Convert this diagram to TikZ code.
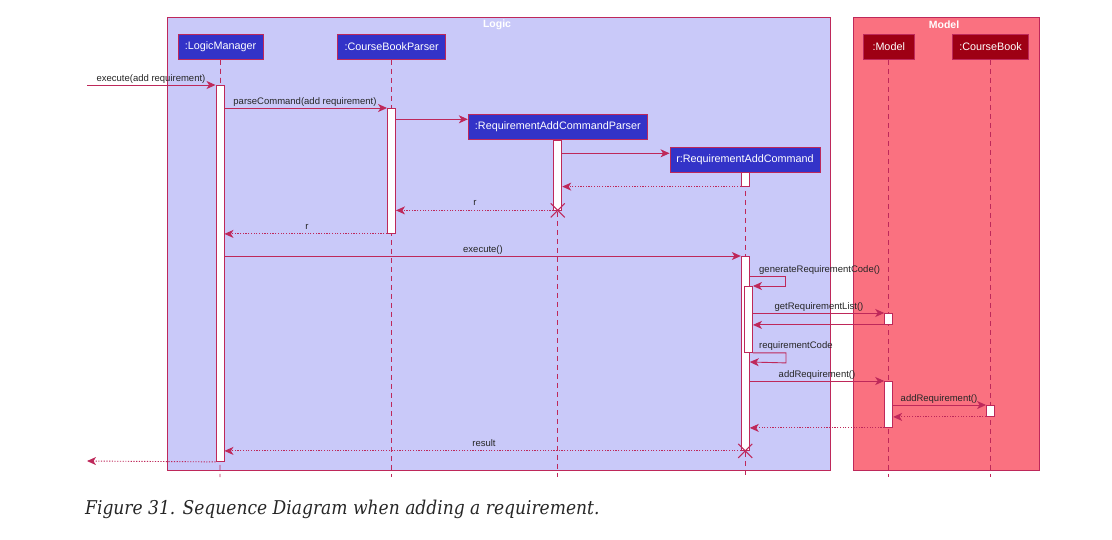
\documentclass[tikz,border=0pt]{standalone}
\usepackage{fontspec}
\setmainfont{Liberation Sans}
\newfontfamily\capfont[FakeStretch=0.9]{DejaVu Serif}
\usetikzlibrary{arrows.meta}
\definecolor{logicfill}{RGB}{201,201,249}
\definecolor{modelfill}{RGB}{250,113,128}
\definecolor{edge}{RGB}{190,40,90}
\definecolor{lpart}{RGB}{51,51,200}
\definecolor{mpart}{RGB}{158,0,20}
\begin{document}
\begin{tikzpicture}[x=1pt,y=-1pt,
  frame/.style={draw=edge, line width=0.8pt, anchor=north west, inner sep=0},
  ftitle/.style={font=\bfseries\fontsize{10.5}{12}\selectfont, text=white, inner sep=0},
  part/.style={draw=edge, line width=0.9pt, text=white, font=\fontsize{10.8}{12}\selectfont, minimum height=25, inner sep=0},
  life/.style={draw=edge, line width=0.8pt, dash pattern=on 5pt off 4pt},
  act/.style={draw=edge, fill=white, line width=0.9pt, minimum width=8, inner sep=0, anchor=north},
  msg/.style={draw=edge, line width=0.9pt, -{Stealth[length=9pt,width=8pt,inset=2.5pt]}},
  ret/.style={msg, dash pattern=on 1.2pt off 1.5pt},
  lbl/.style={font=\fontsize{9.5}{11}\selectfont, inner sep=0, text=black!85, anchor=base},
  kill/.style={draw=edge, line width=1.1pt},
]
\useasboundingbox (0,0) rectangle (1112,539);
% frames
\node[frame, fill=logicfill, minimum width=663, minimum height=453] (logic) at (167,17) {};
\node[frame, fill=modelfill, minimum width=186, minimum height=453] (model) at (853,17) {};
\node[ftitle] (logict) at (497,25) {Logic};
\node[ftitle] (modelt) at (944,25) {Model};
% participants
\node[part, fill=lpart, minimum width=85] (lm) at (220.5,47) {:LogicManager};
\node[part, fill=lpart, minimum width=108] (cbp) at (391.7,47) {:CourseBookParser};
\node[part, fill=lpart, minimum width=179] (racp) at (557.8,127) {:RequirementAddCommandParser};
\node[part, fill=lpart, minimum width=150] (rac) at (745,160) {r:RequirementAddCommand};
\node[part, fill=mpart, minimum width=51] (mdl) at (888.7,47) {:Model};
\node[part, fill=mpart, minimum width=76] (cb) at (990.5,47) {:CourseBook};
% lifelines
\coordinate (lmE) at (220,477);
\coordinate (cbpE) at (391.7,477);
\coordinate (racpE) at (557.8,477);
\coordinate (racE) at (745,477);
\coordinate (mdlE) at (888.7,477);
\coordinate (cbE) at (990.5,477);
\draw[life] (lm.south) -- (lmE);
\draw[life] (cbp.south) -- (cbpE);
\draw[life] (racp.south) -- (racpE);
\draw[life] (rac.south) -- (racE);
\draw[life] (mdl.south) -- (mdlE);
\draw[life] (cb.south) -- (cbE);
% activation bars
\node[act, minimum height=376] (a1) at (220,85) {};
\node[act, minimum height=125] (a2) at (391.5,108) {};
\node[act, minimum height=70] (a3) at (557.8,139.5) {};
\node[act, minimum height=13.4] (a4) at (745.3,172.3) {};
\node[act, minimum height=194] (a5) at (745.3,256) {};
\node[act, minimum height=66] (a6) at (748.5,286) {};
\node[act, minimum height=11] (b1) at (888.7,313) {};
\node[act, minimum height=46] (b2) at (888.7,381) {};
\node[act, minimum height=11] (c1) at (990.5,405) {};
% messages
\coordinate (in) at (87,85);
\coordinate (out) at (87,461);
\draw[msg] (in) -- (a1.north west);
\node[lbl] (l1) at (151,81) {execute(add requirement)};
\draw[msg] (a1.east |- 0,108) -- (a2.north west);
\node[lbl] (l2) at (305,104) {parseCommand(add requirement)};
\draw[msg] (a2.east |- 0,119.3) -- (racp.west |- 0,119.3);
\draw[msg] (a3.east |- 0,153.3) -- (rac.west |- 0,153.3);
\draw[ret] (a4.south west) -- (a3.east |- a4.south);
\draw[ret] (a3.south west) -- (a2.east |- a3.south);
\node[lbl] (l3) at (475,205) {r};
\draw[ret] (a2.south west) -- (a1.east |- a2.south);
\node[lbl] (l4) at (307,229) {r};
\draw[msg] (a1.east |- 0,256) -- (a5.north west);
\node[lbl] (l5) at (483,252) {execute()};
\draw[msg] (a5.east |- 0,276) -- ++(36,0) -- ++(0,10) -- (a6.north east);
\node[lbl, anchor=base west] (l6) at (759,272) {generateRequirementCode()};
\draw[msg] (a6.east |- 0,313) -- (b1.north west);
\node[lbl] (l7) at (819,309) {getRequirementList()};
\draw[msg] (b1.south west) -- (a6.east |- b1.south);
\draw[msg] (a6.south east) -- ++(33,0) -- ++(0,10) -- (a5.east |- 0,362);
\node[lbl, anchor=base west] (l8) at (759,348) {requirementCode};
\draw[msg] (a5.east |- 0,381) -- (b2.north west);
\node[lbl] (l9) at (817,377) {addRequirement()};
\draw[msg] (b2.east |- 0,405) -- (c1.north west);
\node[lbl] (l10) at (939,401) {addRequirement()};
\draw[ret] (c1.south west) -- (b2.east |- c1.south);
\draw[ret] (b2.south west) -- (a5.east |- b2.south);
\draw[ret] (a5.south west) -- (a1.east |- a5.south);
\node[lbl] (l11) at (484,446) {result};
\draw[ret] (a1.south west) -- (out);
% destroy marks
\draw[kill] ([shift={(-7,-7)}]a3.south) -- ([shift={(7,7)}]a3.south);
\draw[kill] ([shift={(-7,7)}]a3.south) -- ([shift={(7,-7)}]a3.south);
\draw[kill] ([shift={(-7,-7)}]a5.south) -- ([shift={(7,7)}]a5.south);
\draw[kill] ([shift={(-7,7)}]a5.south) -- ([shift={(7,-7)}]a5.south);
% caption
\node[anchor=base west, font=\capfont\itshape\fontsize{19}{21}\selectfont, text=black!85, inner sep=0] (cap) at (85,514) {Figure 31. Sequence Diagram when adding a requirement.};
\end{tikzpicture}
\end{document}
